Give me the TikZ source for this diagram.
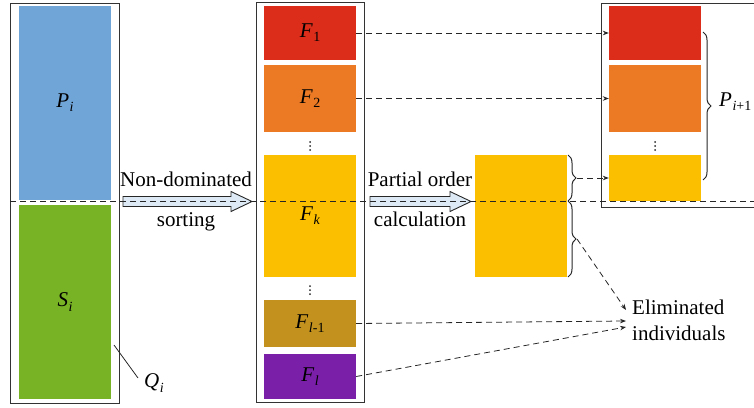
\documentclass[tikz,border=0pt]{standalone}
\usepackage{fontspec}
\setmainfont{Liberation Serif}
\usetikzlibrary{arrows.meta,decorations.pathreplacing}

\definecolor{popblue}{HTML}{70A5D8}
\definecolor{popgreen}{HTML}{78B225}
\definecolor{frontred}{HTML}{DC2D1B}
\definecolor{frontorange}{HTML}{EC7A24}
\definecolor{frontyellow}{HTML}{FBBF00}
\definecolor{frontolive}{HTML}{C2911E}
\definecolor{frontpurple}{HTML}{7A20A8}
\definecolor{arrowfill}{HTML}{DDEAF6}
\definecolor{frame}{HTML}{333333}

% subscript in the text font
\newcommand\subs[1]{\kern0.5pt\raisebox{-0.2em}{\fontsize{14}{14}\selectfont #1}}

\tikzset{
  every node/.style={font=\fontsize{21}{26}\selectfont, text=black},
  outer/.style={draw=frame, line width=1pt, inner sep=0pt},
  block/.style={inner sep=0pt, minimum width=92pt},
  flow/.style={draw=black!85, line width=0.8pt, dash pattern=on 6pt off 4pt,
               -{Stealth[length=6pt,width=4.5pt]}},
  hollow/.style={draw=black!85, line width=0.9pt, fill=arrowfill},
  bracebar/.style={draw=black!85, line width=1pt, decorate,
                   decoration={brace, amplitude=8pt}},
}

\begin{document}
\begin{tikzpicture}[x=1pt, y=-1pt]
\useasboundingbox (0,0) rectangle (754,407);

% population Q_i = P_i + S_i
\node[outer, minimum width=109pt, minimum height=400pt] (Q) at (64.5,203) {};
\node[block, fill=popblue, minimum height=194pt] (P) at (65,103) {\textit{P}\subs{\textit{i}}};
\node[block, fill=popgreen, minimum height=194pt] (S) at (65,302) {\textit{S}\subs{\textit{i}}};
\node[inner sep=0pt] (qlab) at (154,383) {\textit{Q}\subs{\textit{i}}};
\coordinate (qtip) at (114,345);
\coordinate (qend) at (138,378);
\draw[black!85, line width=0.8pt] (qtip) -- (qend);

% non-dominated fronts
\node[outer, minimum width=108pt, minimum height=400pt] (F) at (310,202) {};
\node[block, fill=frontred, minimum height=54pt] (F1) at (310,33) {\textit{F}\subs{1}};
\node[block, fill=frontorange, minimum height=67pt] (F2) at (310,98.5) {\textit{F}\subs{2}};
\node[block, fill=frontyellow, minimum height=122pt] (Fk) at (310,216) {\textit{F}\subs{\textit{k}}};
\node[block, fill=frontolive, minimum height=47pt] (Fl1) at (310,323.5) {\textit{F}\subs{\textit{l}-1}};
\node[block, fill=frontpurple, minimum height=45pt] (Fl) at (310,376.5) {\textit{F}\subs{\textit{l}}};

% vertical ellipses between fronts
\foreach \px/\py in {310/146, 310/290, 655/146}{
  \foreach \k in {-4,0,4}{\fill[black!85] (\px,\py+\k) circle (1pt);}
}

% front F_k after partial order calculation
\node[block, fill=frontyellow, minimum height=122pt] (C) at (521,216) {};

% next population P_{i+1}
\node[outer, minimum width=189pt, minimum height=204pt] (N) at (695.5,105) {};
\node[block, fill=frontred, minimum height=54pt] (R1) at (655,33) {};
\node[block, fill=frontorange, minimum height=67pt] (R2) at (655,98.5) {};
\node[block, fill=frontyellow, minimum height=46pt] (R3) at (655,178) {};
\node[anchor=west, inner sep=0pt] (Pn) at (719,102) {\textit{P}\subs{\textit{i}+1}};

% eliminated individuals
\node[anchor=west, align=left, inner xsep=6pt, inner ysep=0pt] (E) at (626,320)
  {Eliminated\\individuals};

% hollow process arrows and their labels
\draw[hollow] (123,196.5) -- (231,196.5) -- (231,191.5) -- (252,201.5) -- (231,211.5)
  -- (231,206.5) -- (123,206.5) -- cycle;
\node[anchor=base] (t1) at (186,186.5) {Non-dominated};
\node[anchor=base] (t2) at (186,226.5) {sorting};
\draw[hollow] (370,196.5) -- (450,196.5) -- (450,191.5) -- (471,201.5) -- (450,211.5)
  -- (450,206.5) -- (370,206.5) -- cycle;
\node[anchor=base] (t3) at (420,186.5) {Partial order};
\node[anchor=base] (t4) at (420,226.5) {calculation};

% braces
\draw[bracebar] (568,155) -- (568,201);
\draw[bracebar] (568,201) -- (568,277);
\draw[bracebar] (703,32) -- (703,180);
\coordinate (bkeep) at (577,178);
\coordinate (bdrop) at (577,239);

% dashed flows
\draw[flow] (F1.east) -- (R1.west);
\draw[flow] (F2.east) -- (R2.west);
\draw[flow] (bkeep) -- (R3.west);
\draw[flow] (bdrop) -- ([yshift=10pt]E.west);
\draw[flow] (Fl1.east) -- ([yshift=-1pt]E.west);
\draw[flow] (Fl.east) -- ([yshift=-7pt]E.west);

% boundary between P_i and S_i
\coordinate (lineL) at (10,201.5);
\coordinate (lineR) at (760,201.5);
\draw[black!85, line width=0.8pt, dash pattern=on 6pt off 4pt] (lineL) -- (lineR);
\end{tikzpicture}
\end{document}
